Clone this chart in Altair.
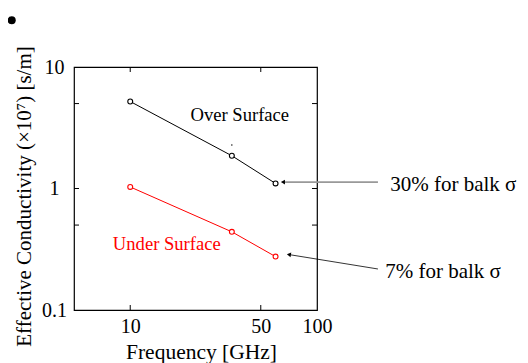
import altair as alt
import pandas as pd

# ---- data ----
freq = [10, 35, 60]
over = [5.2, 1.86, 1.10]
under = [1.03, 0.44, 0.275]
series = ["Over Surface", "Under Surface"]
colors = ["#000000", "#ff0000"]

x_labels = [10, 50, 100]
y_labels = [0.1, 1, 10]
x_minor = [10, 50]
y_minor = [0.5, 1, 5]

# annotation positions (in data coordinates)
lab_text = ["Over Surface", "Under Surface"]
lab_x = [38.6, 15.7]
lab_y = [4.03, 0.349]

note_text = ["30% for balk σ", "7% for balk σ"]
note_x = [246.6, 231.8]
note_y = [1.069, 0.2056]

arrow_x = [212.0, 212.0]
arrow_y = [1.13, 0.2175]
arrow_x2 = [65.7, 70.7]
arrow_y2 = [1.13, 0.286]
arrow_col = ["#999999", "#000000"]
arrow_w = [1.8, 0.8]
head_angle = [0, 9]

bullet_x = [2.32]
bullet_y = [24.2]
speck_x = [35.0]
speck_y = [2.28]

FONT = "Liberation Serif"
W, H = 243, 243

rows = []
for s, vals in zip(series, [over, under]):
    for f, v in zip(freq, vals):
        rows.append({"f": f, "v": v, "s": s})
df = pd.DataFrame(rows)

xs = alt.Scale(type="log", domain=[5, 100], nice=False)
ys = alt.Scale(type="log", domain=[0.1, 10], nice=False)
cs = alt.Scale(domain=series, range=colors)

x_axis = alt.Axis(
    values=x_labels, ticks=False, tickSize=0, domain=False, grid=False,
    labelFont=FONT, labelFontSize=20, labelColor="black", labelPadding=6,
    labelExpr="datum.value", labelFlush=False, labelOverlap=False,
    title="Frequency [GHz]", titleFont=FONT, titleFontSize=21.5,
    titleFontWeight="normal", titleColor="black",
    titleX=127, titleY=48, titleBaseline="alphabetic",
)
y_axis = alt.Axis(
    values=y_labels, ticks=False, tickSize=0, domain=False, grid=False,
    labelFont=FONT, labelFontSize=20, labelColor="black", labelPadding=20,
    labelAlign="center", labelBaseline="middle", labelExpr="datum.value",
    labelFlush=False, labelOverlap=False,
    title="Effective Conductivity (×10⁷)  [s/m]", titleFont=FONT,
    titleFontSize=21, titleFontWeight="normal", titleColor="black",
    titleX=-44, titleY=129, titleBaseline="alphabetic",
)


def X(field):
    return alt.X(field, type="quantitative", scale=xs, axis=x_axis)


def Y(field):
    return alt.Y(field, type="quantitative", scale=ys, axis=y_axis)


base = alt.Chart(df)
lines = base.mark_line(strokeWidth=1).encode(
    x=X("f"), y=Y("v"),
    color=alt.Color("s:N", scale=cs, legend=None),
    detail="s:N",
)
points = base.mark_point(shape="circle", filled=False, fill="white",
                         fillOpacity=1, size=24, strokeWidth=1.1).encode(
    x=X("f"), y=Y("v"),
    color=alt.Color("s:N", scale=cs, legend=None),
)

ydf = pd.DataFrame({"v": y_minor})
xdf = pd.DataFrame({"f": x_minor})
yt_left = alt.Chart(ydf).mark_rule(color="black", strokeWidth=1).encode(
    y=Y("v"), x=alt.value(0), x2=alt.value(5))
yt_right = alt.Chart(ydf).mark_rule(color="black", strokeWidth=1).encode(
    y=Y("v"), x=alt.value(W - 5), x2=alt.value(W))
xt_bot = alt.Chart(xdf).mark_rule(color="black", strokeWidth=1).encode(
    x=X("f"), y=alt.value(H - 5), y2=alt.value(H))
xt_top = alt.Chart(xdf).mark_rule(color="black", strokeWidth=1).encode(
    x=X("f"), y=alt.value(0), y2=alt.value(5))

labdf = pd.DataFrame({"t": lab_text, "x": lab_x, "y": lab_y, "s": series})
labels = alt.Chart(labdf).mark_text(font=FONT, fontSize=18.6, align="center",
                                    baseline="middle").encode(
    x=X("x"), y=Y("y"), text="t:N",
    color=alt.Color("s:N", scale=cs, legend=None),
)

notedf = pd.DataFrame({"t": note_text, "x": note_x, "y": note_y})
notes = alt.Chart(notedf).mark_text(font=FONT, fontSize=21, align="left",
                                    baseline="middle", color="black").encode(
    x=X("x"), y=Y("y"), text="t:N",
)

arrdf = pd.DataFrame({"x": arrow_x, "y": arrow_y, "x2": arrow_x2, "y2": arrow_y2,
                      "c": arrow_col, "w": arrow_w, "a": head_angle})
arrows = alt.Chart(arrdf).mark_rule().encode(
    x=X("x"), y=Y("y"), x2="x2:Q", y2="y2:Q",
    color=alt.Color("c:N", scale=None, legend=None),
    strokeWidth=alt.StrokeWidth("w:Q", scale=None, legend=None),
)
heads = alt.Chart(arrdf).mark_point(shape="triangle-left", filled=True,
                                    color="black", size=22, opacity=1).encode(
    x=X("x2"), y=Y("y2"),
    angle=alt.Angle("a:Q", scale=None),
)

bdf = pd.DataFrame({"x": bullet_x, "y": bullet_y})
bullet = alt.Chart(bdf).mark_point(shape="circle", filled=True, color="black",
                                   size=64, opacity=1).encode(x=X("x"), y=Y("y"))
sdf = pd.DataFrame({"x": speck_x, "y": speck_y})
speck = alt.Chart(sdf).mark_point(shape="circle", filled=True, color="black",
                                  size=2, opacity=1).encode(x=X("x"), y=Y("y"))

chart = alt.layer(
    lines, xt_bot, xt_top, yt_left, yt_right, arrows, heads, points,
    labels, notes, bullet, speck,
).properties(
    width=W, height=H,
    background="white",
    autosize=alt.AutoSizeParams(type="none"),
    padding={"left": 66, "top": 59, "right": 203, "bottom": 53},
).configure_view(stroke="black", strokeWidth=1.2)

chart.save("out.html", embed_options={"renderer": "svg", "actions": False})
